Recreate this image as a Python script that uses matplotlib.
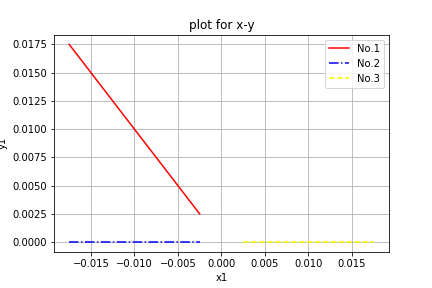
import matplotlib
matplotlib.use("Agg")
import matplotlib.pyplot as plt

x_neg = [-0.0175, -0.0025]
y1 = [0.0175, 0.0025]
x_pos = [0.0025, 0.0175]
y2 = [0.0, 0.0]
y3 = [0.0, 0.0]

fig = plt.figure(figsize=(6, 4), dpi=72)
plt.subplots_adjust(bottom=0.125)
plt.plot(x_neg, y1, 'r-', label='No.1')
plt.plot(x_neg, y2, 'b-.', label='No.2')
plt.plot(x_pos, y3, color='yellow', linestyle='--', label='No.3')
plt.title('plot for x-y')
plt.xlabel('x1')
plt.ylabel('y1')
plt.grid(True)
plt.legend(loc='upper right')
plt.savefig('out.png')
